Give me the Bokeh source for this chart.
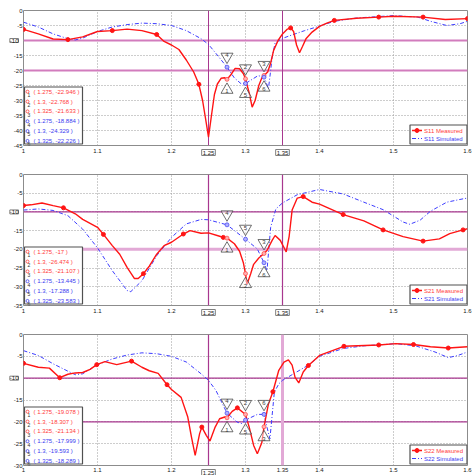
from bokeh.plotting import figure
from bokeh.layouts import column
from bokeh.models import Range1d, FixedTicker, CustomJSTickFormatter, Span, Label
from bokeh.core.properties import value
from bokeh.embed import file_html
from bokeh.resources import INLINE

FONT = "Liberation Sans"
RED = "#ff1414"
BLUE = "#3c3cff"
RED_T = "#ff3c3c"
BLUE_T = "#3c3cf0"

x_ticks = [1.0, 1.1, 1.2, 1.3, 1.4, 1.5, 1.6]
marker_lines_x = [1.25, 1.35]
marker_lines_y = [-10, -20]
marker_x = [1.275, 1.3, 1.325]

# ---------------- S11 ----------------
s11_meas_x = [1.0, 1.02, 1.04, 1.06, 1.08, 1.1, 1.12, 1.14, 1.16, 1.18, 1.19, 1.2, 1.21, 1.22, 1.23,
              1.237, 1.242, 1.246, 1.25, 1.254, 1.258, 1.262, 1.267, 1.272, 1.275, 1.28, 1.286,
              1.292, 1.297, 1.3, 1.305, 1.309, 1.313, 1.318, 1.322, 1.325, 1.33, 1.334, 1.338,
              1.344, 1.35, 1.356, 1.361, 1.365, 1.369, 1.373, 1.377, 1.382, 1.39, 1.4, 1.41, 1.42,
              1.45, 1.48, 1.5, 1.54, 1.57, 1.6]
s11_meas_y = [-6.3, -7.8, -9.5, -9.7, -8.8, -7.0, -6.7, -6.2, -6.7, -8.0, -10.3, -11.5, -13.0, -16.5, -20.5,
              -24.6, -30.0, -36.0, -42.2, -35.0, -28.0, -24.5, -22.6, -22.4, -22.946, -21.5, -19.3,
              -19.4, -21.0, -22.768, -27.5, -32.2, -30.0, -25.0, -22.5, -21.633, -20.5, -17.5, -13.3,
              -10.0, -7.8, -6.3, -5.8, -7.0, -11.5, -14.1, -12.0, -9.3, -7.2, -5.3, -4.2, -3.3,
              -2.6, -2.2, -1.9, -2.2, -3.0, -2.7]
s11_meas_dot_x = [1.0, 1.06, 1.12, 1.18, 1.237, 1.361, 1.42, 1.48, 1.54, 1.6]
s11_meas_dot_y = [-6.3, -9.7, -6.7, -8.0, -24.6, -5.8, -3.3, -2.2, -2.2, -2.7]
s11_sim_x = [1.0, 1.02, 1.04, 1.06, 1.07, 1.08, 1.1, 1.12, 1.14, 1.16, 1.18, 1.2, 1.22, 1.24, 1.25,
             1.26, 1.275, 1.285, 1.294, 1.3, 1.31, 1.317, 1.325, 1.328, 1.331, 1.334, 1.336, 1.34,
             1.35, 1.36, 1.38, 1.4, 1.42, 1.45, 1.5, 1.533, 1.55, 1.572, 1.59, 1.6]
s11_sim_y = [-3.9, -5.5, -7.8, -9.4, -9.8, -9.2, -7.0, -5.5, -4.7, -4.2, -4.4, -5.0, -6.7, -9.4, -11.3,
             -14.3, -18.884, -22.5, -24.4, -24.329, -22.8, -21.7, -22.226, -24.0, -26.1, -20.0, -15.6, -10.8,
             -9.3, -8.4, -6.7, -5.2, -3.6, -2.5, -1.7, -2.2, -3.6, -5.0, -4.4, -3.6]
s11_meas_marks = [-22.946, -22.768, -21.633]
s11_sim_marks = [-18.884, -24.329, -22.226]

# ---------------- S21 ----------------
s21_meas_x = [1.0, 1.01, 1.025, 1.04, 1.054, 1.07, 1.08, 1.1, 1.108, 1.12, 1.13, 1.14, 1.15, 1.155,
              1.162, 1.17, 1.18, 1.19, 1.2, 1.216, 1.225, 1.24, 1.25, 1.265, 1.27, 1.275, 1.285,
              1.292, 1.297, 1.3, 1.302, 1.307, 1.311, 1.318, 1.325, 1.329, 1.336, 1.34, 1.347, 1.352,
              1.355, 1.359, 1.363, 1.37, 1.378, 1.39, 1.4, 1.432, 1.46, 1.486, 1.513, 1.54, 1.562,
              1.576, 1.594, 1.6]
s21_meas_y = [-8.3, -8.1, -7.6, -8.3, -8.9, -10.5, -12.0, -14.1, -16.0, -19.0, -21.3, -24.8, -27.8, -27.8,
              -26.5, -24.5, -21.3, -19.0, -18.1, -15.9, -15.0, -15.7, -15.6, -16.5, -16.8, -17.0, -18.5,
              -20.5, -23.5, -26.474, -29.4, -26.5, -24.0, -22.3, -21.107, -20.3, -17.6, -16.3, -17.6, -19.5,
              -20.7, -16.5, -9.5, -6.3, -5.9, -7.4, -7.9, -10.7, -12.4, -14.8, -16.6, -17.8, -17.2,
              -15.8, -14.8, -14.5]
s21_meas_dot_x = [1.0, 1.054, 1.108, 1.162, 1.216, 1.27, 1.378, 1.432, 1.486, 1.54, 1.594]
s21_meas_dot_y = [-8.3, -8.9, -16.0, -26.5, -15.9, -16.8, -5.9, -10.7, -14.8, -17.8, -14.8]
s21_sim_x = [1.0, 1.02, 1.04, 1.06, 1.08, 1.1, 1.12, 1.14, 1.145, 1.16, 1.18, 1.2, 1.22, 1.24, 1.25,
             1.275, 1.3, 1.316, 1.325, 1.329, 1.334, 1.341, 1.35, 1.37, 1.4, 1.432, 1.46, 1.486,
             1.513, 1.522, 1.536, 1.55, 1.572, 1.594, 1.6]
s21_sim_y = [-9.5, -9.2, -9.6, -11.0, -14.6, -19.6, -25.7, -31.0, -31.3, -28.4, -21.7, -16.8, -13.2, -12.0, -12.1,
             -13.445, -17.288, -19.9, -23.583, -25.7, -14.1, -9.2, -7.6, -5.4, -4.0, -5.2, -7.4, -9.4,
             -12.7, -13.3, -12.2, -9.8, -7.4, -6.5, -6.3]
s21_meas_marks = [-17.0, -26.474, -21.107]
s21_sim_marks = [-13.445, -17.288, -23.583]

# ---------------- S22 ----------------
s22_meas_x = [1.0, 1.02, 1.035, 1.049, 1.06, 1.07, 1.08, 1.09, 1.099, 1.11, 1.126, 1.146, 1.16, 1.17,
              1.182, 1.194, 1.2, 1.213, 1.222, 1.227, 1.232, 1.238, 1.241, 1.247, 1.252, 1.259, 1.265,
              1.272, 1.275, 1.282, 1.289, 1.3, 1.305, 1.311, 1.316, 1.322, 1.325, 1.331, 1.337, 1.345,
              1.352, 1.358, 1.363, 1.367, 1.372, 1.378, 1.385, 1.4, 1.433, 1.48, 1.503, 1.527, 1.55,
              1.574, 1.6]
s22_meas_y = [-6.6, -7.5, -7.7, -9.9, -9.1, -8.8, -8.7, -8.0, -6.9, -6.2, -6.9, -6.1, -7.5, -8.3,
              -8.9, -11.5, -12.6, -14.4, -18.9, -23.5, -27.7, -22.7, -21.2, -23.1, -24.4, -21.2, -19.3,
              -18.9, -19.078, -17.6, -16.8, -18.307, -21.2, -25.4, -27.3, -24.8, -21.134, -15.9, -13.1, -8.2,
              -6.3, -5.8, -7.0, -9.8, -11.1, -8.6, -7.1, -4.8, -2.7, -2.4, -2.1, -2.3, -2.8,
              -3.1, -2.8]
s22_meas_dot_x = [1.0, 1.049, 1.099, 1.146, 1.194, 1.241, 1.289, 1.337, 1.385, 1.433, 1.48, 1.527, 1.574]
s22_meas_dot_y = [-6.6, -9.9, -6.9, -6.1, -11.5, -21.2, -16.8, -13.1, -7.1, -2.7, -2.4, -2.3, -3.1]
s22_sim_x = [1.0, 1.02, 1.04, 1.06, 1.07, 1.08, 1.1, 1.12, 1.14, 1.16, 1.18, 1.2, 1.22, 1.24, 1.25,
             1.26, 1.275, 1.289, 1.295, 1.3, 1.316, 1.325, 1.329, 1.333, 1.336, 1.339, 1.345, 1.35,
             1.369, 1.385, 1.4, 1.432, 1.46, 1.503, 1.53, 1.556, 1.574, 1.587, 1.6]
s22_sim_y = [-3.7, -4.8, -6.7, -8.4, -9.2, -9.0, -6.9, -5.6, -4.7, -4.2, -4.4, -5.0, -6.3, -9.0, -10.5,
             -12.8, -17.999, -20.1, -20.4, -19.593, -18.3, -18.289, -21.2, -23.9, -18.5, -13.2, -11.3, -10.5,
             -8.6, -7.0, -5.0, -3.2, -2.6, -2.1, -2.6, -4.0, -5.3, -4.8, -4.0]
s22_meas_marks = [-19.078, -18.307, -21.134]
s22_sim_marks = [-17.999, -19.593, -18.289]

W = 472
LB, RB = 23, 5


def fmt(v):
    return ("%.3f" % v).rstrip("0").rstrip(".")


def make_panel(name, mx, my, mdx, mdy, sx, sy, m_marks, s_marks, ymin, height, top, bottom,
               hstyles, vstyles, xstandoff, boxed):
    fw = W - LB - RB
    fh = height - top - bottom
    dxp = 0.6 / fw
    dyp = (0 - ymin) / fh
    p = figure(width=W, height=height, x_range=Range1d(1.0, 1.6), y_range=Range1d(ymin, 0),
               output_backend="svg", toolbar_location=None,
               min_border_left=LB, min_border_right=RB, min_border_top=top, min_border_bottom=bottom)
    p.outline_line_color = "#8c8c8c"
    p.outline_line_width = 1
    p.background_fill_color = "white"
    p.border_fill_color = "white"

    boxed_vals = [b[0] for b in boxed]
    yt = list(range(0, int(ymin) - 1, -5))
    p.xaxis.ticker = FixedTicker(ticks=x_ticks + marker_lines_x)
    p.yaxis.ticker = FixedTicker(ticks=yt)
    p.xaxis.formatter = CustomJSTickFormatter(
        args=dict(hide=[v for v in boxed_vals if v > 0]),
        code="var v = Math.round(tick*100)/100; return hide.indexOf(v) >= 0 ? '' : String(v);")
    p.yaxis.formatter = CustomJSTickFormatter(
        args=dict(hide=[v for v in boxed_vals if v <= 0]),
        code="return hide.indexOf(tick) >= 0 ? '' : String(tick);")
    for ax in (p.xaxis, p.yaxis):
        ax.axis_line_color = None
        ax.major_tick_out = 0
        ax.major_tick_in = 0
        ax.minor_tick_line_color = None
        ax.major_label_text_font_size = "6px"
        ax.major_label_text_font = FONT
        ax.major_label_text_color = "#202020"
    p.xaxis.major_label_standoff = xstandoff
    p.yaxis.major_label_standoff = 1
    for g in (p.xgrid, p.ygrid):
        g.grid_line_color = "#9a9a9a"
        g.grid_line_dash = "1 2"
        g.grid_line_width = 1
    p.xgrid.ticker = FixedTicker(ticks=x_ticks)
    p.ygrid.ticker = FixedTicker(ticks=yt)

    for yv, (c, w) in zip(marker_lines_y, hstyles):
        p.add_layout(Span(location=yv, dimension="width", line_color=c, line_width=w, level="underlay"))
    for xv, (c, w) in zip(marker_lines_x, vstyles):
        p.add_layout(Span(location=xv, dimension="height", line_color=c, line_width=w, level="underlay"))

    # curves
    p.line(sx, sy, line_color=BLUE, line_width=1, line_dash="4 2 1 2")
    p.line(mx, my, line_color=RED, line_width=1.4)
    p.scatter(mdx, mdy, marker="circle", size=4, fill_color=RED, line_color=RED)
    p.scatter(marker_x, m_marks, marker="circle", size=4, fill_color="#ffb0b0", line_color=RED_T, line_width=0.7)
    p.scatter(marker_x, s_marks, marker="circle", size=4, fill_color="#b0b0ff", line_color=BLUE_T, line_width=0.7)

    # triangle markers
    up_x, up_y, up_t, dn_x, dn_y, dn_t = [], [], [], [], [], []
    for i, xv in enumerate(marker_x):
        a, b = m_marks[i], s_marks[i]
        na, nb = str(i + 1), str(i + 4)
        if a >= b:
            hi, nhi, lo, nlo = a, na, b, nb
        else:
            hi, nhi, lo, nlo = b, nb, a, na
        dn_x.append(xv); dn_y.append(hi + 10.5 * dyp); dn_t.append(nhi)
        up_x.append(xv); up_y.append(lo - 10.5 * dyp); up_t.append(nlo)
    p.scatter(dn_x, dn_y, marker="inverted_triangle", size=12, fill_color="white", fill_alpha=0.5,
              line_color="#4a4a4a", line_width=0.8)
    p.scatter(up_x, up_y, marker="triangle", size=12, fill_color="white", fill_alpha=0.5,
              line_color="#4a4a4a", line_width=0.8)
    p.text(dn_x, [y + 1.2 * dyp for y in dn_y], text=dn_t, text_font=value(FONT),
           text_font_size=value("6px"), text_color="#404040", text_align="center", text_baseline="middle")
    p.text(up_x, [y - 1.5 * dyp for y in up_y], text=up_t, text_font=value(FONT),
           text_font_size=value("6px"), text_color="#404040", text_align="center", text_baseline="middle")

    # marker table
    tl, tr = 1.0 + 1 * dxp, 1.0 + 59 * dxp
    tb, tt = ymin + 1.5 * dyp, ymin + 58.5 * dyp
    p.quad(left=[tl], right=[tr], bottom=[tb], top=[tt], fill_color="white", line_color="#505050", line_width=1.2)
    rows_vals = list(zip(marker_x, m_marks)) + list(zip(marker_x, s_marks))
    row_y = [tt - (4.7 + 9.85 * i) * dyp for i in range(6)]
    row_c = [RED_T] * 3 + [BLUE_T] * 3
    row_t = ["( %s, %s )" % (fmt(xv), fmt(v)) for xv, v in rows_vals]
    p.scatter([1.0 + 4 * dxp] * 6, row_y, marker="circle", size=3, fill_color=None, line_color=row_c, line_width=0.8)
    p.text([1.0 + 5.5 * dxp] * 6, [y - 3.3 * dyp for y in row_y], text=[str(i + 1) for i in range(6)],
           text_font=value(FONT), text_font_size=value("5px"), text_color="#303030",
           text_align="center", text_baseline="middle")
    p.text([1.0 + 10 * dxp] * 6, row_y, text=row_t, text_font=value(FONT), text_font_size=value("6px"),
           text_color=row_c, text_align="left", text_baseline="middle")

    # legend
    lr = 1.6 - 0.5 * dxp
    ll = lr - 57 * dxp
    lb = ymin + 1.5 * dyp
    lt = lb + 19 * dyp
    p.quad(left=[ll], right=[lr], bottom=[lb], top=[lt], fill_color="white", line_color="#505050", line_width=1.2)
    y1, y2 = lt - 5.5 * dyp, lt - 13.5 * dyp
    p.segment(x0=[ll + 2 * dxp], y0=[y1], x1=[ll + 12 * dxp], y1=[y1], line_color=RED, line_width=1.3)
    p.scatter([ll + 7 * dxp], [y1], marker="circle", size=4, fill_color=RED, line_color=RED)
    p.segment(x0=[ll + 2 * dxp], y0=[y2], x1=[ll + 12 * dxp], y1=[y2], line_color=BLUE, line_width=1,
              line_dash="4 2 1 2")
    p.text([ll + 14 * dxp, ll + 14 * dxp], [y1, y2], text=[name + " Measured", name + " Simulated"],
           text_font=value(FONT), text_font_size=value("6px"), text_color=[RED_T, BLUE_T],
           text_align="left", text_baseline="middle")

    # boxed marker-line labels on the axes; each lives in a side panel (spare border space)
    for v, side in boxed:
        if v > 0:
            lab = Label(x=v, y=ymin - 7 * dyp, text=str(v), text_align="center", text_baseline="middle",
                        padding=1)
        else:
            lab = Label(x=1.0 - 5 * dxp, y=v, text=str(v), text_align="right", text_baseline="middle",
                        padding=0)
        lab.text_font = FONT
        lab.text_font_size = "6px"
        lab.text_color = "#202020"
        lab.border_line_color = "#808080"
        lab.background_fill_color = "white"
        p.add_layout(lab, side)
    return p


PINK = "#d27cbd"
PURPLE = "#a8378f"
LPINK = "#e2a9d6"

p1 = make_panel("S11", s11_meas_x, s11_meas_y, s11_meas_dot_x, s11_meas_dot_y, s11_sim_x, s11_sim_y,
                s11_meas_marks, s11_sim_marks, -45, 165, 10, 20,
                [(PINK, 2), (PINK, 2)], [(PURPLE, 1), (PURPLE, 1)], 3,
                [(1.25, "above"), (1.35, "below"), (-10, "left")])
p2 = make_panel("S21", s21_meas_x, s21_meas_y, s21_meas_dot_x, s21_meas_dot_y, s21_sim_x, s21_sim_y,
                s21_meas_marks, s21_sim_marks, -35, 160, 9, 20,
                [(PURPLE, 1.2), (LPINK, 3)], [(PURPLE, 1.2), (PURPLE, 1.2)], 3,
                [(1.25, "above"), (1.35, "below"), (-10, "left")])
p3 = make_panel("S22", s22_meas_x, s22_meas_y, s22_meas_dot_x, s22_meas_dot_y, s22_sim_x, s22_sim_y,
                s22_meas_marks, s22_sim_marks, -30, 150, 9, 10,
                [(PURPLE, 1.2), (PURPLE, 1.2)], [(PURPLE, 1.2), (LPINK, 3)], 2,
                [(1.25, "above"), (-10, "left")])

layout = column(p1, p2, p3, spacing=0)
open("out.html", "w").write(file_html(layout, INLINE))
